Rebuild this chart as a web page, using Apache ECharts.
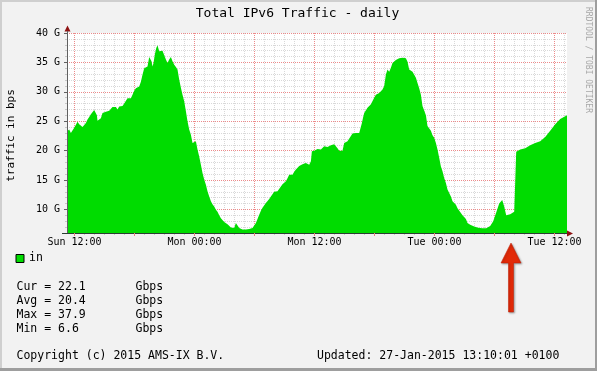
<!DOCTYPE html>
<html><head><meta charset="utf-8">
<script src="https://cdn.jsdelivr.net/npm/echarts@6/dist/echarts.min.js"></script>
<style>html,body{margin:0;padding:0;background:#F2F2F2}#c{width:597px;height:371px}</style>
</head><body><div id="c"></div>
<script>
const titleText = 'Total IPv6 Traffic - daily';
const yAxisName = 'traffic in bps';
const seriesName = 'in';
const dayNames = ['Sun', 'Mon', 'Tue'];
const yUnit = 'G';
const xRange = [11.25, 61.25];   // hours since Sun 00:00
const yRange = [6, 40];          // Gbps
const xLabelHours = [12, 24, 36, 48, 60];
const yLabelValues = [10, 15, 20, 25, 30, 35, 40];
const hours = [11.25,11.30,11.47,11.64,11.80,11.97,12.14,12.30,12.47,12.64,12.80,12.97,13.14,13.30,13.47,13.64,13.80,13.97,14.14,14.24,14.30,14.47,14.64,14.80,14.97,15.14,15.30,15.47,15.64,15.80,15.97,16.14,16.30,16.47,16.64,16.80,16.97,17.14,17.30,17.47,17.64,17.80,17.97,18.14,18.30,18.47,18.64,18.80,18.97,19.14,19.30,19.47,19.57,19.70,19.80,19.90,20.04,20.17,20.30,20.47,20.64,20.80,20.97,21.14,21.30,21.47,21.64,21.80,21.97,22.14,22.30,22.47,22.64,22.80,22.97,23.14,23.30,23.47,23.64,23.80,23.90,24.14,24.30,24.47,24.64,24.80,24.97,25.14,25.30,25.47,25.64,25.80,25.97,26.14,26.30,26.47,26.64,26.80,26.97,27.14,27.30,27.47,27.64,27.80,27.97,28.14,28.30,28.47,28.64,28.80,28.97,29.14,29.30,29.47,29.64,29.80,29.97,30.14,30.30,30.47,30.64,30.80,30.97,31.14,31.30,31.47,31.64,31.80,31.97,32.14,32.30,32.47,32.64,32.80,32.97,33.14,33.30,33.47,33.64,33.80,33.97,34.14,34.30,34.47,34.64,34.80,34.97,35.14,35.30,35.47,35.64,35.74,35.97,36.14,36.30,36.47,36.64,36.80,36.97,37.14,37.30,37.47,37.64,37.80,37.97,38.14,38.30,38.47,38.64,38.80,38.97,39.14,39.30,39.47,39.64,39.80,39.97,40.14,40.30,40.47,40.64,40.74,40.87,40.97,41.14,41.30,41.47,41.64,41.80,41.97,42.14,42.30,42.47,42.64,42.80,42.97,43.14,43.30,43.47,43.64,43.80,43.97,44.14,44.30,44.47,44.64,44.80,44.97,45.14,45.30,45.47,45.64,45.80,45.97,46.14,46.30,46.47,46.64,46.80,46.97,47.14,47.30,47.47,47.64,47.80,47.97,48.14,48.30,48.47,48.64,48.80,48.97,49.14,49.30,49.47,49.64,49.80,49.97,50.14,50.30,50.47,50.64,50.80,50.97,51.14,51.30,51.57,51.97,52.37,52.77,53.17,53.57,53.87,54.17,54.47,54.77,54.97,55.17,55.57,55.97,56.17,56.57,57.07,57.57,58.07,58.57,59.07,59.57,60.07,60.57,61.25];
const gbps = [23.3,23.6,23.6,23.0,23.3,23.9,24.4,24.9,24.5,24.4,24.0,24.2,24.7,25.3,25.7,26.2,26.5,26.9,27.0,26.0,25.1,25.2,25.5,26.4,26.5,26.6,26.6,26.8,27.0,27.4,27.6,27.4,27.0,27.5,27.5,27.6,28.0,28.3,28.9,28.7,28.9,29.5,30.2,30.6,30.7,30.9,31.7,32.9,34.0,34.2,34.3,35.9,36.0,35.2,34.3,34.9,36.4,37.4,37.9,36.9,36.6,37.0,37.2,35.5,34.9,35.5,35.9,35.2,34.6,34.2,33.8,32.1,30.7,29.5,28.4,26.7,25.0,23.6,22.7,21.3,21.5,21.6,20.2,19.0,17.6,16.2,15.1,14.2,13.1,12.2,11.4,10.9,10.5,9.95,9.6,9.0,8.5,8.2,7.85,7.7,7.5,7.3,6.95,6.85,6.85,7.7,7.4,6.85,6.6,6.6,6.6,6.6,6.7,6.7,6.75,6.85,7.1,7.7,8.4,9.1,9.8,10.3,10.5,11.1,11.4,11.8,12.2,12.5,13.0,13.0,13.1,13.4,13.9,14.3,14.5,14.8,15.3,15.9,15.8,15.9,16.4,16.8,17.1,17.4,17.6,17.7,17.6,17.9,18.1,17.6,18.2,19.9,20.0,20.3,20.3,20.2,20.2,20.2,20.75,20.75,20.6,20.6,20.9,21.1,21.1,21.0,20.4,20.0,20.0,20.0,21.3,21.6,21.6,21.9,22.5,22.9,23.2,23.0,23.0,23.0,23.3,24.7,25.7,26.4,26.7,27.3,27.6,27.9,27.6,29.0,29.5,29.7,29.8,30.0,30.4,31.0,32.95,33.8,33.4,34.1,34.9,35.2,35.4,35.5,35.7,35.7,35.8,36.1,35.7,35.1,33.8,33.5,33.4,32.9,32.4,31.5,30.6,29.5,27.6,27.3,26.0,24.2,23.9,23.4,22.6,22.2,21.3,20.2,18.8,17.3,16.5,15.35,14.5,13.4,13.1,12.2,11.4,11.1,10.8,10.2,9.95,9.4,9.0,8.8,8.4,7.7,7.4,7.1,6.9,6.8,6.8,7.2,8.0,9.5,11.0,11.6,10.5,9.0,9.2,9.6,19.8,20.2,20.4,20.9,21.3,21.6,22.3,23.4,24.5,25.4,26.0];
const statNames = ['Cur', 'Avg', 'Max', 'Min'];
const statValues = ['22.1', '20.4', '37.9', '6.6'];
const statUnit = 'Gbps';
const copyrightText = 'Copyright (c) 2015 AMS-IX B.V.';
const updatedText = 'Updated: 27-Jan-2015 13:10:01 +0100';
const watermarkText = 'RRDTOOL / TOBI OETIKER';

const MONO = '"DejaVu Sans Mono", monospace';
const GREEN = '#00DC00';
const MINOR = '#D8D8D8';
const MAJOR = '#EC8A8A';

// grid positions (hours every 1h, major every 6h)
const minorHours = [], majorHours = [];
for (let h = Math.ceil(xRange[0]); h <= xRange[1]; h++) { if (h % 6 === 0) majorHours.push(h); else minorHours.push(h); }
const minorG = [];
for (let g = yRange[0] + 1; g < yRange[1]; g++) { if (g % 5 !== 0) minorG.push(g); }

const chart = echarts.init(document.getElementById('c'), null, {renderer: 'canvas', width: 597, height: 371});

function xLabel(v) {
  const r = Math.round(v);
  const hh = r % 24;
  return dayNames[Math.floor(r / 24)] + ' ' + (hh < 10 ? '0' : '') + hh + ':00';
}
function yLabel(v) { return Math.round(v) + ' ' + yUnit; }

const hidden = {show: false};
const xBase = {type: 'value', min: xRange[0], max: xRange[1], position: 'bottom'};
const yBase = {type: 'value', min: yRange[0], max: yRange[1], position: 'left'};

const texts = [];
function txt(text, x, y, size, opts) {
  texts.push(Object.assign({type: 'text', x: x, y: y, silent: true, z: 20,
    style: Object.assign({text: text, x: 0, y: 0, font: size + 'px ' + MONO, fill: '#000', align: 'left', verticalAlign: 'middle'}, (opts && opts.style) || {})},
    opts ? {rotation: opts.rotation || 0} : {}));
}
txt(titleText, 297.5, 13.5, 13, {style: {align: 'center'}});
txt(yAxisName, 11, 135.5, 11, {rotation: Math.PI / 2, style: {align: 'center'}});
txt(watermarkText, 588, 60, 8, {rotation: -Math.PI / 2, style: {align: 'center', fill: '#A8A8A8'}});
statNames.forEach((n, i) => {
  txt(n + ' = ' + statValues[i], 16.5, 286.7 + i * 14.2, 11.5);
  txt(statUnit, 135.5, 286.7 + i * 14.2, 11.5);
});
txt(copyrightText, 16.5, 356.5, 11.5);
txt(updatedText, 317, 356.5, 11.5);

const decorations = [
  {type: 'rect', shape: {x: 0, y: 0, width: 597, height: 2}, style: {fill: '#CFCFCF'}, silent: true, z: 30},
  {type: 'rect', shape: {x: 0, y: 0, width: 2, height: 371}, style: {fill: '#CFCFCF'}, silent: true, z: 30},
  {type: 'rect', shape: {x: 0, y: 368, width: 597, height: 3}, style: {fill: '#9E9E9E'}, silent: true, z: 31},
  {type: 'rect', shape: {x: 595, y: 0, width: 2, height: 371}, style: {fill: '#9E9E9E'}, silent: true, z: 31},
  {type: 'polygon', shape: {points: [[64.5, 31.5], [70.5, 31.5], [67.5, 25.5]]}, style: {fill: '#8E1212'}, silent: true, z: 30},
  {type: 'rect', shape: {x: 67, y: 31, width: 1, height: 2}, style: {fill: '#606060'}, silent: true, z: 30},
  {type: 'rect', shape: {x: 62, y: 233, width: 5, height: 1}, style: {fill: '#2C3D33'}, silent: true, z: 30},
  {type: 'polygon', shape: {points: [[567, 230.5], [567, 236.5], [573, 233.5]]}, style: {fill: '#8E1212'}, silent: true, z: 30},
  {type: 'polygon', shape: {points: [[511, 243], [521, 263], [513.5, 263], [513.5, 312], [508.5, 312], [508.5, 263], [501, 263]]},
    style: {fill: '#E22A08', stroke: '#C01A00', lineWidth: 0.5, shadowBlur: 2, shadowOffsetX: 1, shadowOffsetY: 1, shadowColor: 'rgba(0,0,0,0.35)'}, silent: true, z: 30}
];

chart.setOption({
  animation: false,
  backgroundColor: '#F2F2F2',
  grid: {left: 67, top: 33, width: 500, height: 200, show: true, backgroundColor: '#FFFFFF', borderWidth: 0},
  legend: {data: [seriesName], left: 15.5, top: 252.5, padding: 0, icon: 'rect', itemWidth: 8, itemHeight: 8,
    selectedMode: false, textStyle: {fontFamily: MONO, fontSize: 11.5, color: '#000'},
    itemStyle: {color: GREEN, borderColor: '#000', borderWidth: 1}},
  xAxis: [
    Object.assign({}, xBase, {axisLine: hidden, axisLabel: hidden,
      axisTick: {show: true, customValues: minorHours, length: 2, lineStyle: {color: '#C8C8C8'}},
      splitLine: {show: true, lineStyle: {color: MINOR, width: 1, type: [1, 1]}}}),
    Object.assign({}, xBase, {axisLine: hidden, axisLabel: hidden,
      axisTick: {show: true, customValues: majorHours, length: 3, lineStyle: {color: '#E88080'}},
      splitLine: {show: true, lineStyle: {color: MAJOR, width: 1, type: [1, 1]}}}),
    Object.assign({}, xBase, {z: 10, splitLine: hidden,
      axisTick: {show: true, customValues: majorHours, length: 3, lineStyle: {color: '#E88080'}},
      axisLabel: {show: true, customValues: xLabelHours, formatter: xLabel,
        fontFamily: MONO, fontSize: 10, color: '#000', margin: 4},
      axisLine: {show: true, lineStyle: {color: '#2C3D33', width: 1}}})
  ],
  yAxis: [
    Object.assign({}, yBase, {axisLine: hidden, axisLabel: hidden,
      axisTick: {show: true, customValues: minorG, length: 2, lineStyle: {color: '#C8C8C8'}},
      splitLine: {show: true, lineStyle: {color: MINOR, width: 1, type: [1, 1]}}}),
    Object.assign({}, yBase, {axisLine: hidden, axisLabel: hidden,
      axisTick: {show: true, customValues: yLabelValues, length: 3, lineStyle: {color: '#606060'}},
      splitLine: {show: true, lineStyle: {color: MAJOR, width: 1, type: [1, 1]}}}),
    Object.assign({}, yBase, {z: 10, splitLine: hidden,
      axisTick: {show: true, customValues: yLabelValues, length: 3, lineStyle: {color: '#606060'}},
      axisLabel: {show: true, customValues: yLabelValues, formatter: yLabel, fontFamily: MONO, fontSize: 10, color: '#000', margin: 7},
      axisLine: {show: true, lineStyle: {color: '#606060', width: 1}}})
  ],
  series: [{
    name: seriesName, type: 'line', xAxisIndex: 0, yAxisIndex: 0,
    data: hours.map((h, i) => [h, gbps[i]]),
    showSymbol: false, symbol: 'none', smooth: false, silent: true, z: 2,
    color: GREEN, lineStyle: {width: 0, color: GREEN},
    areaStyle: {color: GREEN, opacity: 1, origin: 'start'}
  }],
  graphic: decorations.concat(texts)
});
</script></body></html>
